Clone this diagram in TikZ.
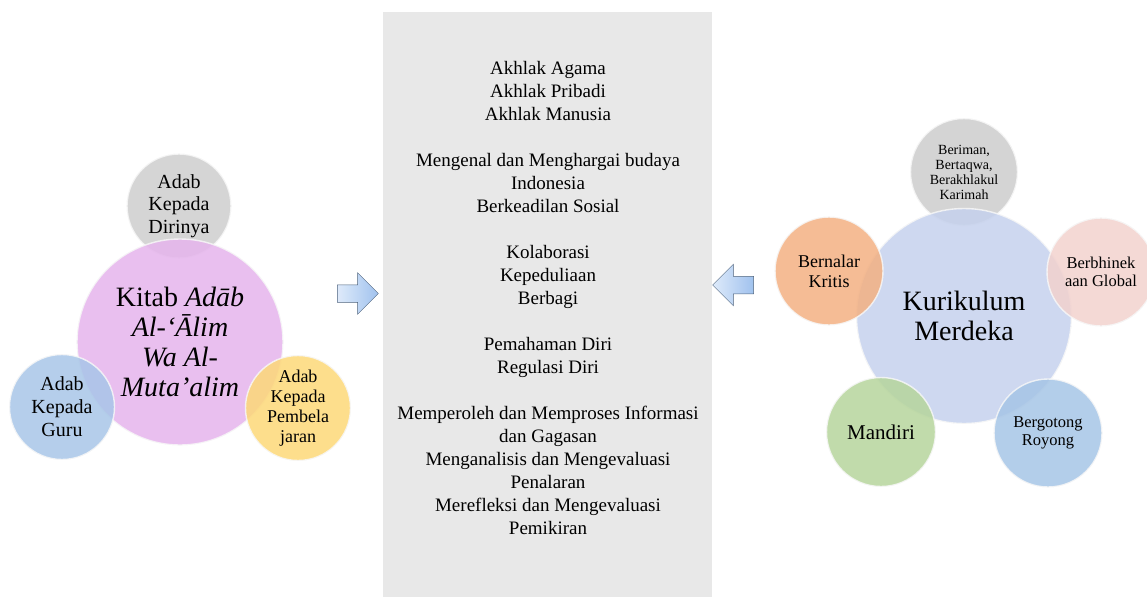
\documentclass[tikz,border=0pt]{standalone}
\usepackage{fontspec}
\setmainfont{Liberation Serif}
\usetikzlibrary{shapes.arrows}
\definecolor{cpurple}{RGB}{229,180,236}
\definecolor{cgrayL}{RGB}{206,206,206}
\definecolor{cblueL}{RGB}{168,198,232}
\definecolor{cyellow}{RGB}{253,216,120}
\definecolor{cmain}{RGB}{197,209,237}
\definecolor{cgrayR}{RGB}{205,205,205}
\definecolor{corange}{RGB}{243,176,130}
\definecolor{cpink}{RGB}{242,210,206}
\definecolor{cgreen}{RGB}{182,213,156}
\definecolor{cblueR}{RGB}{166,197,230}
\definecolor{cbox}{RGB}{232,232,232}
\definecolor{carrowA}{RGB}{222,234,250}
\definecolor{carrowB}{RGB}{160,194,238}
\definecolor{carrowline}{RGB}{80,100,125}
\tikzset{
  bubble/.style={circle, inner sep=0pt, align=center, fill opacity=0.85, text opacity=1,
    draw=black!25, draw opacity=0.6, line width=0.6pt,
    postaction={draw=white, draw opacity=0.75, line width=1.4pt, shorten >=0pt}},
  blockarrow/.style={single arrow, draw=carrowline, line width=0.5pt, inner sep=8.5pt,
    minimum width=41pt, single arrow head extend=12pt, single arrow tip angle=90,
    minimum height=41pt, left color=carrowA, right color=carrowB},
}
\begin{document}
\begin{tikzpicture}[x=1pt,y=-1pt]
\useasboundingbox (0,0) rectangle (1147,597);
\clip (0,0) rectangle (1147,597);
% left cluster
\node[bubble, fill=cgrayL, minimum size=104pt, font=\fontsize{20}{22.5}\selectfont] (dirinya) at (179,206) {Adab\\Kepada\\Dirinya};
\node[bubble, fill=cpurple, minimum size=206pt, font=\fontsize{28}{30}\selectfont] (kitab) at (180,342) {Kitab \textit{Adāb}\\\textit{Al-‘Ālim}\\\textit{Wa Al-}\\\textit{Muta’alim}};
\node[bubble, fill=cblueL, minimum size=105pt, font=\fontsize{20}{23}\selectfont] (guru) at (62,407) {Adab\\Kepada\\Guru};
\node[bubble, fill=cyellow, minimum size=105pt, font=\fontsize{18}{20}\selectfont] (pemb) at (298,408) {Adab\\Kepada\\Pembela\\jaran};
% middle box
\node[fill=cbox, minimum width=329pt, minimum height=585pt, inner sep=0pt] (box) at (547.5,304.5) {};
\node[align=center, font=\fontsize{19}{23}\selectfont, inner sep=0pt] (boxtext) at (548,298) {Akhlak Agama\\Akhlak Pribadi\\Akhlak Manusia\\[23pt]Mengenal dan Menghargai budaya\\Indonesia\\Berkeadilan Sosial\\[23pt]Kolaborasi\\Kepeduliaan\\Berbagi\\[23pt]Pemahaman Diri\\Regulasi Diri\\[23pt]Memperoleh dan Memproses Informasi\\dan Gagasan\\Menganalisis dan Mengevaluasi\\Penalaran\\Merefleksi dan Mengevaluasi\\Pemikiran};
% arrows
\node[blockarrow] (arrowL) at (353.5,293.5) {};
\node[blockarrow, shape border rotate=180] (arrowR) at (737.5,285) {};
% right cluster
\node[bubble, fill=cgrayR, minimum size=107pt, font=\fontsize{14}{15}\selectfont] (beriman) at (964,172) {Beriman,\\Bertaqwa,\\Berakhlakul\\Karimah};
\node[bubble, fill=cmain, minimum size=215pt, font=\fontsize{28}{30}\selectfont] (kurikulum) at (964,316) {Kurikulum\\Merdeka};
\node[bubble, fill=corange, minimum size=108pt, font=\fontsize{18}{20}\selectfont] (kritis) at (829,271) {Bernalar\\Kritis};
\node[bubble, fill=cpink, minimum size=108pt, font=\fontsize{16.5}{17.5}\selectfont] (global) at (1101,272) {Berbhinek\\aan Global};
\node[bubble, fill=cgreen, minimum size=109pt, font=\fontsize{21}{23}\selectfont] (mandiri) at (881,432) {Mandiri};
\node[bubble, fill=cblueR, minimum size=108pt, font=\fontsize{16.5}{18}\selectfont] (royong) at (1048,433) {Bergotong\\Royong};
\end{tikzpicture}
\end{document}
